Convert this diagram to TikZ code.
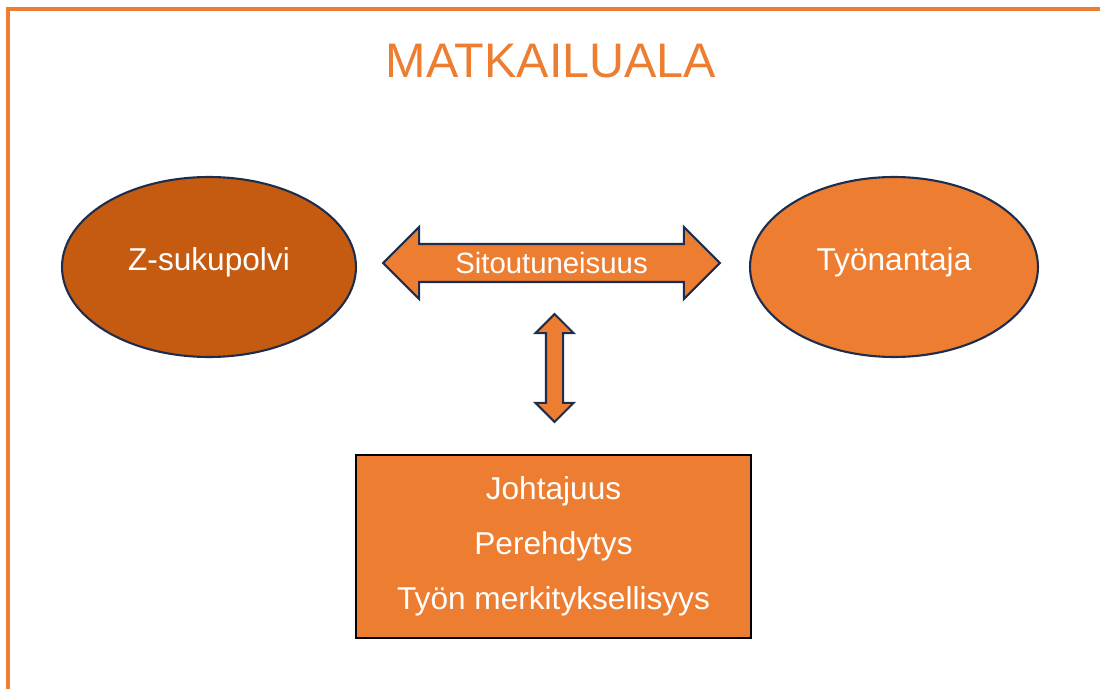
\documentclass[tikz,border=0pt]{standalone}
\usepackage{fontspec}
\setmainfont{Liberation Sans}
\usetikzlibrary{shapes.geometric,shapes.arrows}
\definecolor{oranssi}{HTML}{ED7D31}
\definecolor{tumma}{HTML}{C55A11}
\definecolor{reuna}{HTML}{1F2D4D}

\begin{document}
\begin{tikzpicture}[x=0.02cm,y=-0.02cm,
    pallo/.style={ellipse,draw=reuna,line width=1.2pt,text=white,inner sep=0pt,
      minimum height=3.6cm,text height=0.46cm,text depth=0.33cm,
      font=\fontsize{18}{22}\selectfont},
    nuoli/.style={double arrow,draw=reuna,fill=oranssi,line width=1.2pt,
      double arrow tip angle=90,inner sep=0pt}]
    \useasboundingbox (0,0) rectangle (1100,689);
    \draw[oranssi,line width=1.9pt] (1100,9) -- (8,9) -- (8,689);
    \node[text=oranssi,font=\fontsize{27.6}{32}\selectfont] (t) at (551,61) {MATKAILUALA};
    \node[pallo,fill=tumma,minimum width=5.88cm] (z) at (209,267) {Z-sukupolvi};
    \node[pallo,fill=oranssi,minimum width=5.76cm] (y) at (894,267) {Työnantaja};
    \node[nuoli,minimum height=6.74cm,double arrow head extend=0.34cm,
      text height=0.568cm,text depth=0.152cm,text=white,
      font=\fontsize{16.7}{20}\selectfont] (s) at (551.5,263) {Sitoutuneisuus};
    \node[nuoli,rotate=90,minimum height=2.16cm,double arrow head extend=0.21cm,
      text height=0.3cm,text depth=0pt] (v) at (554.5,368) {};
    \node[draw=black,fill=oranssi,line width=1.2pt,text=white,inner sep=0pt,
      minimum width=7.9cm,minimum height=3.66cm,align=center,
      font=\fontsize{18}{31.2}\selectfont] (b) at (553.5,546.5)
      {Johtajuus\\Perehdytys\\Työn merkityksellisyys};
  \end{tikzpicture}
\end{document}
